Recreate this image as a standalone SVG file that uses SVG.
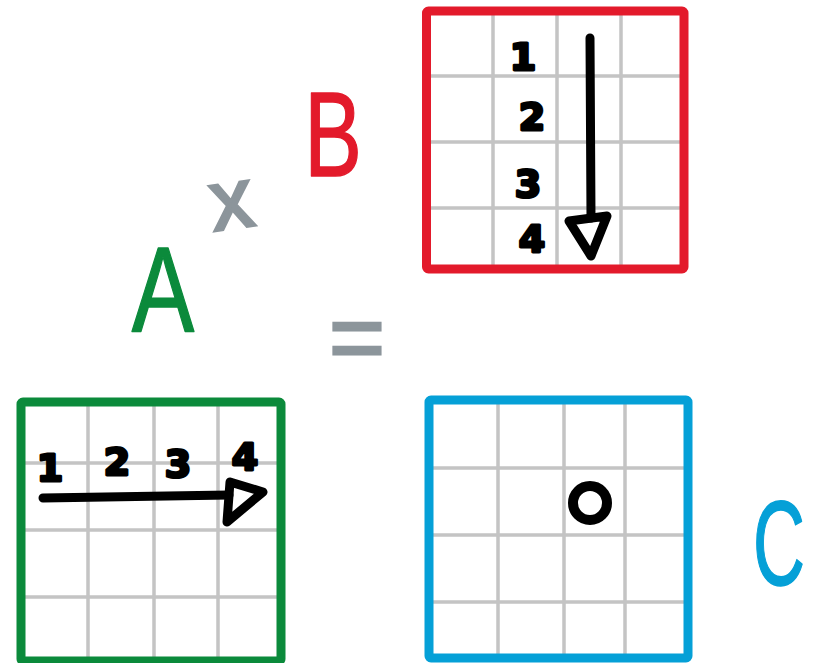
<svg xmlns="http://www.w3.org/2000/svg" width="815" height="663" viewBox="0 0 815 663">
<style>
.grid{stroke:#c4c4c4;stroke-width:3.5;fill:none}
.frame{fill:none;stroke-width:9;stroke-linejoin:round}
.ink{fill:none;stroke:#000;stroke-width:9;stroke-linecap:round;stroke-linejoin:round}
.digit{font-family:"DejaVu Sans",sans-serif;font-weight:bold;font-size:38px;fill:#000;stroke:#000;stroke-width:3;stroke-linejoin:round;text-anchor:middle}
.big{font-family:"Liberation Sans",sans-serif;font-size:120px;stroke-width:1.5;stroke-linejoin:round}
</style>
<rect width="815" height="663" fill="#fff"/>
<g id="matrixB">
<path class="grid" d="M493,11V269M557,11V269M621,11V269M427,76H684M427,142H684M427,208H684"/>
<rect class="frame" x="426.5" y="11" width="257.5" height="258" rx="2" stroke="#e31a2b"/>
<text class="digit" x="523" y="70">1</text>
<text class="digit" x="532" y="130">2</text>
<text class="digit" x="528" y="197">3</text>
<text class="digit" x="532" y="252">4</text>
</g>
<g id="matrixA">
<path class="grid" d="M88,402V662M154,402V662M218,402V662M21,463H281M21,530H281M21,597H281"/>
<rect class="frame" x="21" y="402" width="260" height="259" rx="2" stroke="#0b8a3b"/>
<text class="digit" x="50" y="481">1</text>
<text class="digit" x="117" y="475">2</text>
<text class="digit" x="178" y="477">3</text>
<text class="digit" x="245" y="470">4</text>
</g>
<g id="matrixC">
<path class="grid" d="M498,400V658M564,400V658M625,400V658M429,468H688M429,535H688M429,602H688"/>
<rect class="frame" x="429" y="400" width="259" height="258" rx="2" stroke="#05a0d7" stroke-width="11"/>
<circle cx="590" cy="503" r="17" fill="none" stroke="#000" stroke-width="10"/>
</g>
<g id="connectors">
<path class="ink" d="M590,38L591,218"/>
<path class="ink" d="M569,221L607,216L591,256Z"/>
<path class="ink" d="M43,498L229,495"/>
<path class="ink" d="M230,482L263,492L227,522Z"/>
</g>
<g id="labels">
<text class="big" transform="translate(163,331) scale(0.78,1)" text-anchor="middle" fill="#0b8a3b" stroke="#0b8a3b">A</text>
<text class="big" transform="translate(333,176) scale(0.72,1)" text-anchor="middle" fill="#e31a2b" stroke="#e31a2b">B</text>
<text class="big" transform="translate(753,585) scale(0.6,1)" font-size="132" fill="#05a0d7" stroke="#05a0d7">C</text>
<text font-family="Liberation Sans,sans-serif" font-size="85" transform="translate(235,228) rotate(-8)" text-anchor="middle" fill="#8c959b" stroke="#8c959b" stroke-width="3">x</text>
<text font-family="Liberation Sans,sans-serif" font-size="95" x="357" y="370" text-anchor="middle" fill="#8c959b" stroke="#8c959b" stroke-width="3">=</text>
</g>
</svg>
